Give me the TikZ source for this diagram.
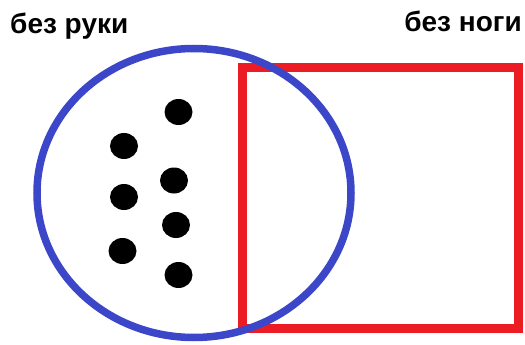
\documentclass[tikz,border=0pt]{standalone}
\usepackage{fontspec}
\setmainfont{Liberation Sans}
\usetikzlibrary{shapes.geometric}
\definecolor{vblue}{RGB}{60,70,200}
\definecolor{vred}{RGB}{236,28,36}
\begin{document}
\begin{tikzpicture}[x=1pt,y=-1pt,
  lbl/.style={font=\bfseries\fontsize{28}{30}\selectfont, inner sep=0pt, anchor=base west},
  dot/.style={fill=black, draw=none}]
\useasboundingbox (0,0) rectangle (525,345);
\node[draw=vred, line width=9pt, minimum width=276pt, minimum height=260pt, inner sep=0pt] (sq) at (380,198) {};
\node[draw=vblue, line width=7.5pt, ellipse, minimum width=314pt, minimum height=289pt, inner sep=0pt] (circ) at (194,193) {};
\node[lbl] (a) at (10,33.5) {без руки};
\node[lbl, anchor=base east] (b) at (522,32) {без ноги};
\fill[dot] (178.5,112) ellipse [x radius=14, y radius=13];
\fill[dot] (124,146) ellipse [x radius=14, y radius=13];
\fill[dot] (174,180.5) ellipse [x radius=14, y radius=13];
\fill[dot] (124,197) ellipse [x radius=14, y radius=13];
\fill[dot] (176,225) ellipse [x radius=14, y radius=13];
\fill[dot] (122.5,251) ellipse [x radius=14, y radius=13];
\fill[dot] (178.5,275) ellipse [x radius=14, y radius=13];
\end{tikzpicture}
\end{document}
